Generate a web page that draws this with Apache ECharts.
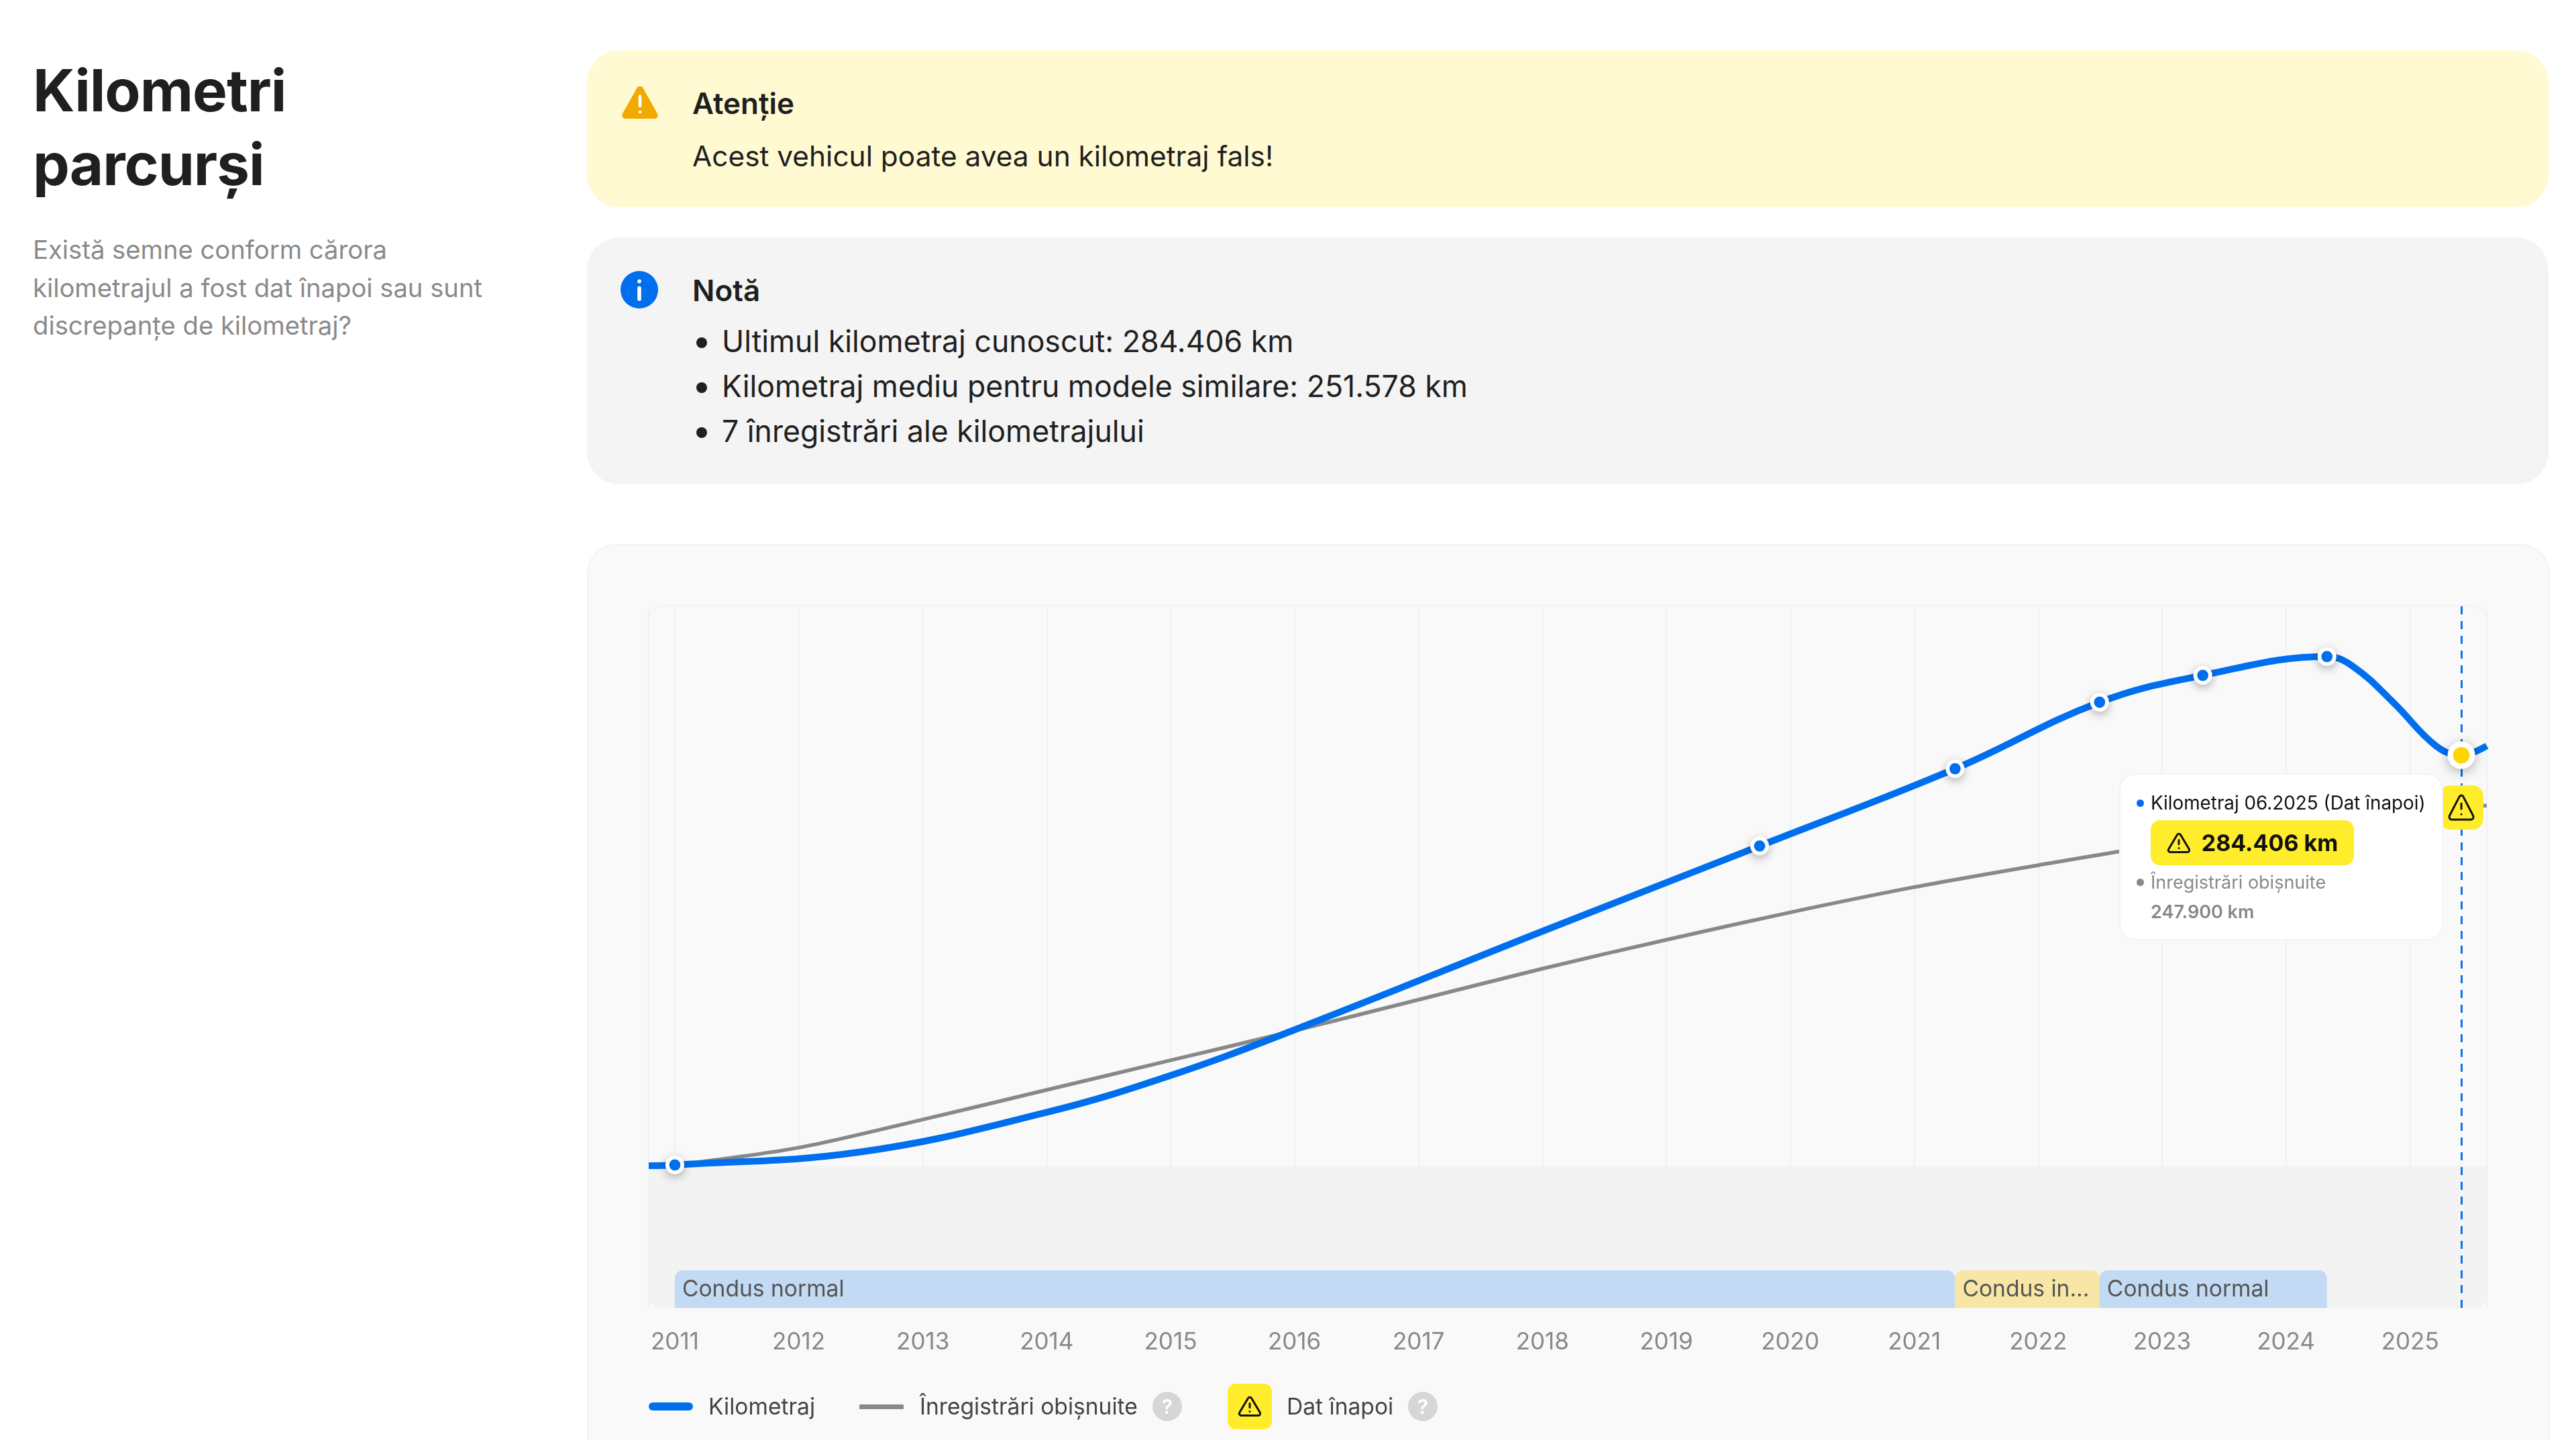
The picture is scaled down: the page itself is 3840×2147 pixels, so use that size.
<!DOCTYPE html>
<html>
	<head>
		<meta charset="utf-8" />
		<title>Kilometri parcurși</title>
		<script src="https://cdn.jsdelivr.net/npm/echarts@6/dist/echarts.min.js"></script>
		<style>
			html, body { margin: 0; padding: 0; width: 3840px; height: 2147px; overflow: hidden; background: #fff; font-family: Inter, "Noto Sans", sans-serif; color: #1f1f1f; }
			.abs { position: absolute; white-space: nowrap; }
			#title { left: 49px; top: 80px; font-size: 87px; font-weight: 700; line-height: 110px; letter-spacing: -1px; }
			#intro { left: 49px; top: 344px; font-size: 38.2px; line-height: 56.5px; color: #8a8a8a; }
			.box { position: absolute; left: 875px; width: 2924px; border-radius: 48px; }
			#warn { top: 75px; height: 234px; background: #fffad2; }
			#note { top: 354px; height: 368px; background: #f4f4f4; }
			#card { position: absolute; left: 875px; top: 811px; width: 2922px; height: 1500px; background: #f9f9f9; border: 2px solid #f3f3f3; border-radius: 44px; }
			.head { left: 1032px; font-size: 44px; font-weight: 600; line-height: 56px; }
			.line { left: 1032px; font-size: 42.4px; line-height: 56px; }
			.li { left: 1076px; font-size: 44.6px; line-height: 56px; }
			.li::before { content: ""; position: absolute; left: -38px; top: 22px; width: 16px; height: 16px; border-radius: 50%; background: #1f1f1f; }
			#main { position: absolute; left: 0; top: 0; width: 3840px; height: 2147px; }
			.lg { font-size: 33.6px; line-height: 44px; color: #444; top: 2075px; }
			.lgl { position: absolute; height: 12px; border-radius: 6px; top: 2091px; }
			.q { position: absolute; top: 2075px; width: 44px; height: 44px; border-radius: 50%; background: #d6d6d6; color: #fff; font-size: 30px; font-weight: 600; line-height: 44px; text-align: center; }
		</style>
	</head>
	<body>
		<div id="title" class="abs">Kilometri<br>parcurși</div>
		<div id="intro" class="abs">Există semne conform cărora<br>kilometrajul a fost dat înapoi sau sunt<br>discrepanțe de kilometraj?</div>

		<div id="warn" class="box"></div>
		<svg class="abs" style="left:925px;top:125px" width="58" height="56" viewBox="0 0 24 24">
			<path fill="#f2a900" d="M10.1 2.6 L0.9 19 a2.2 2.2 0 0 0 1.9 3.3 h18.4 a2.2 2.2 0 0 0 1.9-3.3 L13.9 2.6 a2.2 2.2 0 0 0-3.8 0z"/>
			<path stroke="#fff" stroke-width="2" stroke-linecap="round" d="M12 8v6 M12 18h.01"/>
		</svg>
		<div class="abs head" style="top:126px">Atenție</div>
		<div class="abs line" style="top:205px">Acest vehicul poate avea un kilometraj fals!</div>

		<div id="note" class="box"></div>
		<svg class="abs" style="left:925px;top:404px" width="56" height="56" viewBox="0 0 24 24">
			<circle cx="12" cy="12" r="12" fill="#006fee"/>
			<path stroke="#fff" stroke-width="2.4" stroke-linecap="round" d="M12 11v7 M12 6.6h.01"/>
		</svg>
		<div class="abs head" style="top:405px">Notă</div>
		<div class="abs li" style="top:481px">Ultimul kilometraj cunoscut: 284.406 km</div>
		<div class="abs li" style="top:548px">Kilometraj mediu pentru modele similare: 251.578 km</div>
		<div class="abs li" style="top:615px">7 înregistrări ale kilometrajului</div>

		<div id="card"></div>
		<div id="main"></div>

		<div class="lgl" style="left:967px;width:66px;background:#006fee"></div>
		<div class="abs lg" style="left:1056px">Kilometraj</div>
		<div class="lgl" style="left:1281px;width:66px;height:7px;top:2094px;background:#888;border-radius:1px"></div>
		<div class="abs lg" style="left:1371px">Înregistrări obișnuite</div>
		<div class="q" style="left:1718px">?</div>
		<div class="abs" style="left:1830px;top:2063px;width:66px;height:68px;border-radius:12px;background:#ffec2b"></div>
		<svg class="abs" style="left:1845px;top:2079px" width="36" height="36" viewBox="0 0 24 24" fill="none" stroke="#111" stroke-width="2" stroke-linecap="round" stroke-linejoin="round">
			<path d="M10.29 3.86 L1.82 18 a2 2 0 0 0 1.71 3 h16.94 a2 2 0 0 0 1.71-3 L13.71 3.86 a2 2 0 0 0-3.42 0z M12 9v4 M12 17h.01"/>
		</svg>
		<div class="abs lg" style="left:1918px">Dat înapoi</div>
		<div class="q" style="left:2099px">?</div>

	<script>
	// curba kilometrajului
	var curveDates = ['2010-10-16', '2011-01-01', '2012-07-01', '2014-01-01', '2015-01-01', '2016-01-01', '2018-01-01', '2019-10-03', '2021-05-01', '2022-07-01', '2023-05-01', '2024-05-01', '2024-07-18', '2024-11-14', '2025-03-18', '2025-06-01', '2025-08-15'];
	var curveKm = [0, 500, 9500, 37000, 62500, 94100, 162400, 221500, 275000, 321100, 339700, 352700, 345700, 320600, 290900, 284406, 290900];

	// cele 7 inregistrari
	var recordDates = ['2011-01-01', '2019-10-03', '2021-05-01', '2022-07-01', '2023-05-01', '2024-05-01'];
	var recordKm = [500, 221500, 275000, 321100, 339700, 352700];
	var rollbackDate = '2025-06-01';
	var rollbackKm = 284406;

	// inregistrari obisnuite
	var usualDates = ['2011-01-01', '2012-01-01', '2013-01-01', '2014-01-01', '2015-01-01', '2016-01-01', '2017-01-01', '2018-01-01', '2019-01-01', '2020-01-01', '2021-01-01', '2022-01-01', '2023-01-01', '2024-01-01', '2025-01-01', '2025-06-01', '2025-08-15'];
	var usualKm = [500, 12500, 32000, 52500, 73000, 93500, 115000, 136500, 156500, 175500, 193000, 208200, 222500, 234500, 244000, 247900, 249500];

	// benzile de jos
	var bandStart = ['2011-01-01', '2021-05-01', '2022-07-01'];
	var bandEnd = ['2021-05-01', '2022-07-01', '2024-05-01'];
	var bandLabels = ['Condus normal', 'Condus in...', 'Condus normal'];
	var bandKinds = ['normal', 'intens', 'normal'];

	var xMin = '2010-10-16', xMax = '2025-08-15';
	var yMin = -98500, yMax = 388000;
	var stripTop = -72500;

	var warnPath = 'path://M10.29 3.86 L1.82 18 a2 2 0 0 0 1.71 3 h16.94 a2 2 0 0 0 1.71-3 L13.71 3.86 a2 2 0 0 0-3.42 0z M12 9v4 M12 17h.01';
	var warnSvg = '<svg width="36" height="36" viewBox="0 0 24 24" fill="none" stroke="#111" stroke-width="2" stroke-linecap="round" stroke-linejoin="round" style="margin-right:16px"><path d="M10.29 3.86 L1.82 18 a2 2 0 0 0 1.71 3 h16.94 a2 2 0 0 0 1.71-3 L13.71 3.86 a2 2 0 0 0-3.42 0z M12 9v4 M12 17h.01"/></svg>';

	function pairs(xs, ys){
		return xs.map(function(x, i){ return [Date.parse(x), ys[i]]; });
	}
	function km(v){
		return String(v).replace(/\B(?=(\d{3})+$)/g, '.') + ' km';
	}
	// un punct: cerc alb cu umbra dedesubt, cerc colorat deasupra
	function dotSeries(name, data, z, size, color, blur){
		return [
			{
				name: name + ' halo',
				type: 'scatter',
				z: z,
				silent: true,
				data: data,
				symbolSize: size,
				itemStyle: { color: '#fff', shadowBlur: blur, shadowColor: 'rgba(0,0,0,0.3)', shadowOffsetY: 4, opacity: 1 }
			},
			{
				name: name,
				type: 'scatter',
				z: z + 1,
				data: data,
				symbolSize: size * 0.6,
				itemStyle: { color: color, opacity: 1 }
			}
		];
	}

	var chart = echarts.init(document.getElementById('main'));

	var rollbackPoint = [[Date.parse(rollbackDate), rollbackKm]];

	var baseSeries = [
		{
			// fundalul gri de sub zero
			type: 'custom',
			silent: true,
			z: 1,
			data: [[Date.parse(xMin), Date.parse(xMax)]],
			renderItem: function(params, api){
				var a = api.coord([api.value(0), 0]);
				var b = api.coord([api.value(1), yMin]);
				return { type: 'rect', shape: { x: a[0], y: a[1], width: b[0] - a[0], height: b[1] - a[1], r: [0, 0, 22, 22] }, style: { fill: '#f3f3f3' } };
			}
		},
		{
			type: 'custom',
			silent: true,
			z: 2,
			clip: true,
			data: bandStart.map(function(s, i){ return [Date.parse(s), Date.parse(bandEnd[i]), i]; }),
			renderItem: function(params, api){
				var i = api.value(2);
				var a = api.coord([api.value(0), stripTop]);
				var b = api.coord([api.value(1), yMin]);
				return {
					type: 'group',
					children: [
						{ type: 'rect', shape: { x: a[0], y: a[1], width: b[0] - a[0], height: b[1] - a[1], r: [12, 12, 0, 0] }, style: { fill: bandKinds[i] == 'normal' ? 'rgba(0,120,245,0.2)' : 'rgba(255,210,40,0.38)' } },
						{ type: 'text', style: { x: a[0] + 11, y: (a[1] + b[1]) / 2 + 1, text: bandLabels[i], fill: '#555', fontFamily: 'Inter', fontSize: 33.6, verticalAlign: 'middle' } }
					]
				};
			}
		},
		{
			name: 'Înregistrări obișnuite',
			type: 'line',
			z: 3,
			data: pairs(usualDates, usualKm),
			smooth: 0.3,
			symbol: 'none',
			lineStyle: { color: '#888', width: 5.5 }
		},
		{
			name: 'Kilometraj',
			type: 'line',
			z: 4,
			data: pairs(curveDates, curveKm),
			smooth: 0.4,
			symbol: 'none',
			lineStyle: { color: '#006fee', width: 10 },
			markLine: {
				silent: true,
				symbol: 'none',
				label: { show: false },
				lineStyle: { color: '#0a72e8', width: 3, type: [12, 10] },
				data: [{ xAxis: Date.parse(rollbackDate) }]
			}
		},
		{
			name: 'Dat înapoi marcaj',
			type: 'scatter',
			z: 5,
			silent: true,
			data: rollbackPoint,
			symbol: 'roundRect',
			symbolSize: [66, 66],
			symbolOffset: [0, 78],
			itemStyle: { color: '#ffec2b', opacity: 1 }
		},
		{
			name: 'Dat înapoi icon',
			type: 'scatter',
			z: 6,
			silent: true,
			data: rollbackPoint,
			symbol: warnPath,
			symbolSize: 36,
			symbolOffset: [0, 78],
			itemStyle: { color: 'transparent', borderColor: '#111', borderWidth: 3, borderCap: 'round', opacity: 1 }
		}
	];

	var allSeries = baseSeries
		.concat(dotSeries('Inregistrari', pairs(recordDates, recordKm), 7, 28, '#006fee', 14))
		.concat(dotSeries('Dat înapoi', rollbackPoint, 9, 41, '#ffd500', 18));

	var option = {
		animation: false,
		useUTC: true,
		textStyle: { fontFamily: 'Inter' },
		grid: { left: 967, right: 133, top: 903, bottom: 197 },
		graphic: [{
			type: 'rect',
			z: -1,
			shape: { x: 967, y: 903, width: 2740, height: 1047, r: 22 },
			style: { fill: 'transparent', stroke: '#f2f2f2', lineWidth: 2 }
		}],
		tooltip: {
			trigger: 'item',
			triggerOn: 'none',
			alwaysShowContent: true,
			transitionDuration: 0,
			padding: 0,
			borderWidth: 0,
			backgroundColor: 'transparent',
			shadowBlur: 0,
			extraCssText: 'box-shadow:none;',
			position: function(){ return [3159, 1153]; },
			formatter: function(){
				return '<div style="box-sizing:border-box;width:483px;height:249px;padding:24px 0 0 24px;background:#fff;border:2px solid #f3f3f3;border-radius:24px;font-family:Inter;position:relative">' +
					'<div style="font-size:27.8px;line-height:36px;color:#111"><span style="display:inline-block;width:11px;height:11px;border-radius:50%;background:#006fee;margin:0 10px 4px 0"></span>Kilometraj 06.2025 (Dat înapoi)</div>' +
					'<div style="display:flex;align-items:center;justify-content:center;width:303px;height:67px;margin:8px 0 0 21px;background:#ffec2b;border-radius:14px;font-size:34px;font-weight:700;color:#111">' + warnSvg + km(rollbackKm) + '</div>' +
					'<div style="font-size:27px;line-height:36px;color:#888;margin-top:8px"><span style="display:inline-block;width:11px;height:11px;border-radius:50%;background:#888;margin:0 10px 4px 0"></span>Înregistrări obișnuite</div>' +
					'<div style="font-size:27px;line-height:36px;color:#888;font-weight:600;margin:8px 0 0 21px">' + km(usualKm[usualDates.indexOf(rollbackDate)]) + '</div>' +
					'</div>';
			}
		},
		xAxis: {
			type: 'time',
			min: Date.parse(xMin),
			max: Date.parse(xMax),
			minInterval: 365 * 24 * 3600 * 1000,
			splitNumber: 15,
			axisLine: { show: false },
			axisTick: { show: false },
			axisLabel: { formatter: '{yyyy}', color: '#888', fontSize: 35, margin: 34, showMinLabel: false, showMaxLabel: false, hideOverlap: false },
			splitLine: { show: true, lineStyle: { color: '#edf0f4', width: 2 } }
		},
		yAxis: {
			type: 'value',
			min: yMin,
			max: yMax,
			show: false,
			splitLine: { show: false }
		},
		series: allSeries
	};

	chart.setOption(option);
	chart.dispatchAction({ type: 'showTip', seriesIndex: allSeries.length - 1, dataIndex: 0 });
	</script>
	</body>
</html>
